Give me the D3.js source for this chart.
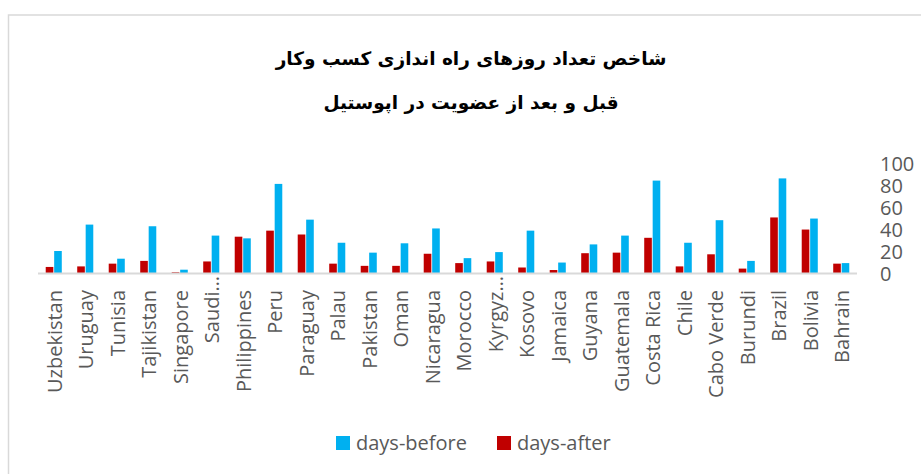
<!DOCTYPE html>
<html><head><meta charset="utf-8">
<script src="https://cdn.jsdelivr.net/npm/d3@7"></script>
<style>html,body{margin:0;padding:0;background:#fff;}svg{display:block;}</style>
</head><body>
<svg id="chart" width="921" height="474"></svg>
<script>
const titleLines = ["شاخص تعداد روزهای راه اندازی کسب وکار", "قبل و بعد از عضویت در اپوستیل"];
const categories = ["Uzbekistan","Uruguay","Tunisia","Tajikistan","Singapore","Saudi…","Philippines","Peru","Paraguay","Palau","Pakistan","Oman","Nicaragua","Morocco","Kyrgyz…","Kosovo","Jamaica","Guyana","Guatemala","Costa Rica","Chile","Cabo Verde","Burundi","Brazil","Bolivia","Bahrain"];
const daysAfter  = [5.5, 6, 8.5, 11, 0.7, 10.5, 33, 38.5, 35, 8.5, 6.5, 6.5, 17.5, 9, 10.5, 5, 2.7, 18, 18.5, 32, 6, 17, 4, 50.5, 39.5, 8.5];
const daysBefore = [20, 44, 13, 42.5, 3, 34, 31.5, 81, 48.5, 27.5, 18.5, 27, 40.5, 13.5, 19, 38.5, 9.5, 26, 34, 84, 27.5, 48, 11, 86, 49.5, 9];
const yTicks = [0, 20, 40, 60, 80, 100];
const seriesKeys = ["days-after", "days-before"];
const legendKeys = ["days-before", "days-after"];
const colors = {"days-before": "#00B0F0", "days-after": "#C00000"};

const svg = d3.select("#chart");
const textColor = "#595959";
const font = "'Open Sans', sans-serif";

// outer border
svg.append("rect").attr("x", 8.5).attr("y", 15).attr("width", 930).attr("height", 480)
  .attr("fill", "none").attr("stroke", "#d9d9d9").attr("stroke-width", 1.5);

// title
svg.selectAll("text.title").data(titleLines).join("text")
  .attr("class", "title")
  .attr("x", 471).attr("y", (d, i) => i === 0 ? 58 : 102)
  .attr("text-anchor", "middle").attr("dominant-baseline", "central")
  .attr("direction", "rtl")
  .attr("font-family", "'DejaVu Sans', sans-serif").attr("font-weight", "bold")
  .attr("font-size", 18.5).attr("fill", "#000")
  .text(d => d);

const x0 = d3.scaleBand().domain(categories).range([38, 857]).paddingInner(0.49).paddingOuter(0.245);
const x1 = d3.scaleBand().domain(seriesKeys).range([0, x0.bandwidth()]).paddingInner(0.1);
const y = d3.scaleLinear().domain([0, 100]).range([273, 163]);

const data = categories.map((c, i) => ({cat: c, "days-after": daysAfter[i], "days-before": daysBefore[i]}));

const groups = svg.append("g").selectAll("g").data(data).join("g")
  .attr("transform", d => `translate(${x0(d.cat)},0)`);
groups.selectAll("rect").data(d => seriesKeys.map(k => ({key: k, value: d[k]}))).join("rect")
  .attr("x", d => x1(d.key)).attr("width", x1.bandwidth())
  .attr("y", d => y(d.value)).attr("height", d => y(0) - y(d.value))
  .attr("fill", d => colors[d.key]);

// baseline
svg.append("line").attr("x1", 38).attr("x2", 857).attr("y1", y(0) + 0.5).attr("y2", y(0) + 0.5)
  .attr("stroke", "#d9d9d9").attr("stroke-width", 2);

// y axis on right
const yAxis = d3.axisRight(y).tickValues(yTicks).tickSize(0).tickPadding(0);
const ya = svg.append("g").attr("transform", "translate(880,0)").call(yAxis);
ya.select(".domain").remove();
ya.selectAll("text").attr("font-family", font).attr("font-size", 20).attr("fill", textColor)
  .attr("x", 0).attr("dy", "0.35em").attr("text-anchor", "start");

// x axis labels
const xAxis = d3.axisBottom(x0).tickSize(0).tickPadding(0);
const xa = svg.append("g").attr("transform", "translate(0,290)").call(xAxis);
xa.select(".domain").remove();
xa.selectAll("text").attr("font-family", font).attr("font-size", 20).attr("fill", textColor)
  .attr("transform", "rotate(-90)").attr("text-anchor", "end")
  .attr("x", d => d.endsWith("…") ? 14 : 0).attr("y", 1).attr("dy", "0.35em");

// legend
const legendX = [336, 497];
const lg = svg.append("g").selectAll("g").data(legendKeys).join("g")
  .attr("transform", (d, i) => `translate(${legendX[i]},436)`);
lg.append("rect").attr("width", 14).attr("height", 14).attr("fill", d => colors[d]);
lg.append("text").attr("x", 20).attr("y", 7).attr("dy", "0.35em")
  .attr("font-family", font).attr("font-size", 20).attr("fill", textColor).text(d => d);
</script>
</body></html>
